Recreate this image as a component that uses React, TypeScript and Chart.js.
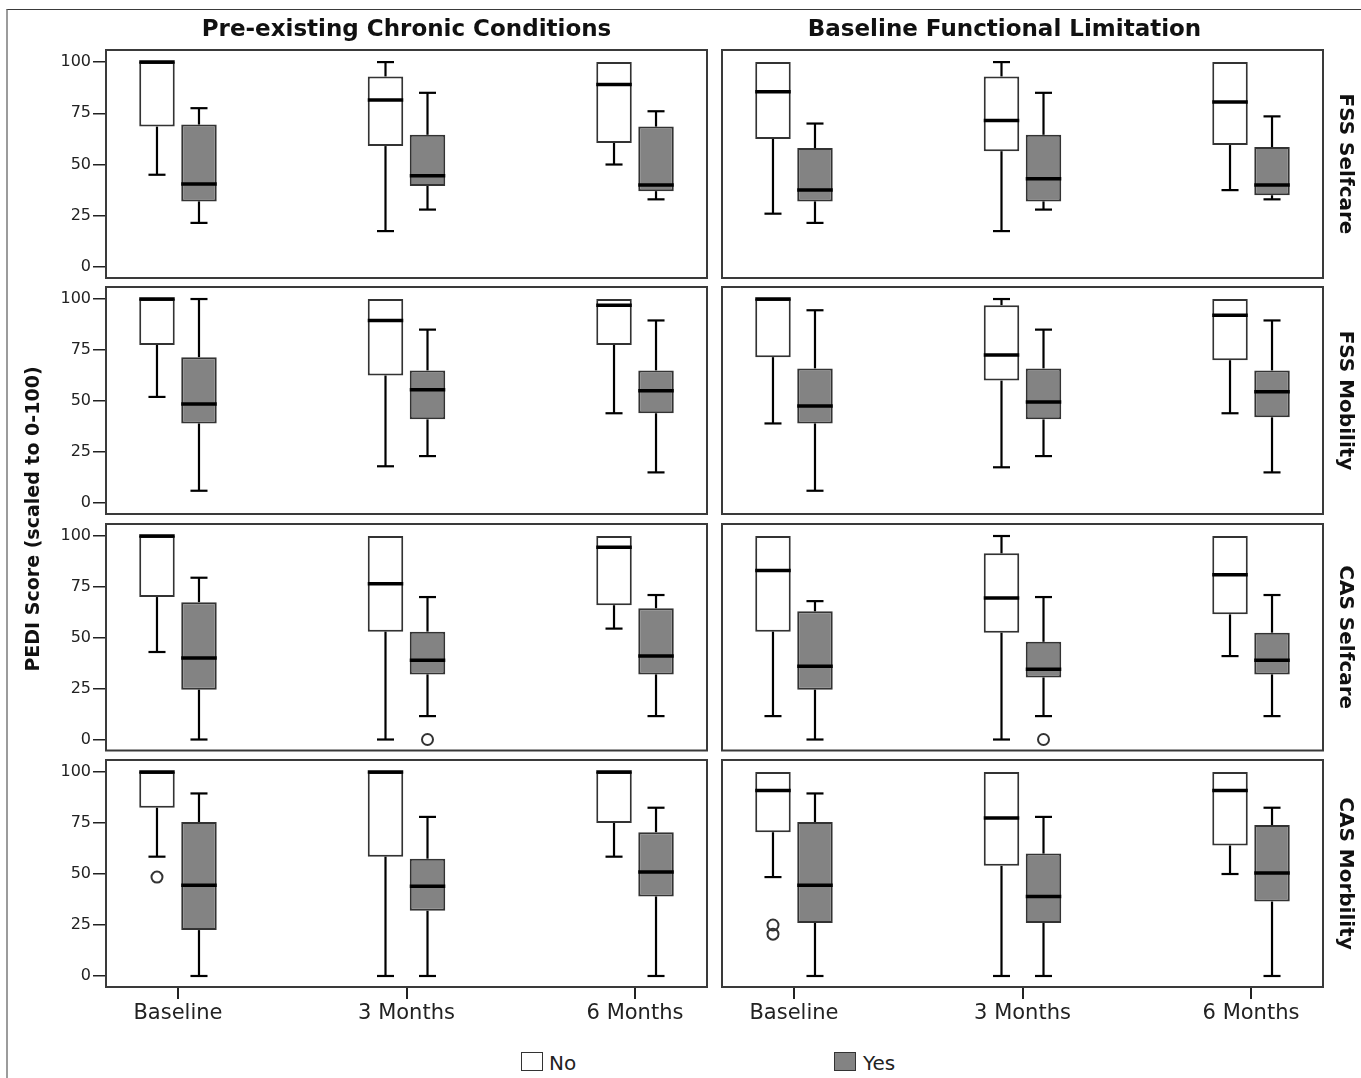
import React, { useEffect, useRef } from 'react';
import { Chart, registerables } from 'chart.js';

Chart.register(...registerables);

// ---------- data ----------
const CATEGORIES = ['Baseline', '3 Months', '6 Months'];
const GROUP_LABELS = ['No', 'Yes'];
const COLUMN_TITLES = ['Pre-existing Chronic Conditions', 'Baseline Functional Limitation'];
const ROW_LABELS = ['FSS Selfcare', 'FSS Mobility', 'CAS Selfcare', 'CAS Morbility'];
const Y_TICKS = [0, 25, 50, 75, 100];
const Y_TITLE = 'PEDI Score (scaled to 0-100)';

// [lower whisker, Q1, median, Q3, upper whisker] for Baseline, 3 Months, 6 Months
const chronicFssSelfcareNo = [[45, 68.5, 100, 100, 100], [17.5, 59, 81.5, 93, 100], [50, 60.5, 89, 100, 100]];
const chronicFssSelfcareYes = [[21.5, 32, 40.5, 69.5, 77.5], [28, 39.5, 44.5, 64.5, 85], [33, 37, 40, 68.5, 76]];
const chronicFssMobilityNo = [[52, 77.5, 100, 100, 100], [18, 62.5, 89.5, 100, 100], [44, 77.5, 97, 100, 100]];
const chronicFssMobilityYes = [[6, 39, 48.5, 71.5, 100], [23, 41, 55.5, 65, 85], [15, 44, 55, 65, 89.5]];
const chronicCasSelfcareNo = [[43, 70, 100, 100, 100], [0, 53, 76.5, 100, 100], [54.5, 66, 94.5, 100, 100]];
const chronicCasSelfcareYes = [[0, 24.5, 40, 67.5, 79.5], [11.5, 32, 39, 53, 70], [11.5, 32, 41, 64.5, 71]];
const chronicCasMobilityNo = [[58.5, 82.5, 100, 100, 100], [0, 58.5, 100, 100, 100], [58.5, 75, 100, 100, 100]];
const chronicCasMobilityYes = [[0, 22.5, 44.5, 75.5, 89.5], [0, 32, 44, 57.5, 78], [0, 39, 51, 70.5, 82.5]];

const limitFssSelfcareNo = [[26, 62.5, 85.5, 100, 100], [17.5, 56.5, 71.5, 93, 100], [37.5, 59.5, 80.5, 100, 100]];
const limitFssSelfcareYes = [[21.5, 32, 37.5, 58, 70], [28, 32, 43, 64.5, 85], [33, 35, 40, 58.5, 73.5]];
const limitFssMobilityNo = [[39, 71.5, 100, 100, 100], [17.5, 60, 72.5, 97, 100], [44, 70, 92, 100, 100]];
const limitFssMobilityYes = [[6, 39, 47.5, 66, 94.5], [23, 41, 49.5, 66, 85], [15, 42, 54.5, 65, 89.5]];
const limitCasSelfcareNo = [[11.5, 53, 83, 100, 100], [0, 52.5, 69.5, 91.5, 100], [41, 61.5, 81, 100, 100]];
const limitCasSelfcareYes = [[0, 24.5, 36, 63, 68], [11.5, 30.5, 34.5, 48, 70], [11.5, 32, 39, 52.5, 71]];
const limitCasMobilityNo = [[48.5, 70.5, 91, 100, 100], [0, 54, 77.5, 100, 100], [50, 64, 91, 100, 100]];
const limitCasMobilityYes = [[0, 26, 44.5, 75.5, 89.5], [0, 26, 39, 60, 78], [0, 36.5, 50.5, 74, 82.5]];

// outliers: [group index (0 = No, 1 = Yes), time point index, value]
const chronicCasSelfcareOutliers = [[1, 1, 0]];
const chronicCasMobilityOutliers = [[0, 0, 48.5]];
const limitCasSelfcareOutliers = [[1, 1, 0]];
const limitCasMobilityOutliers = [[0, 0, 25], [0, 0, 20.5]];

const PANEL_DATA: any[][] = [
  [[chronicFssSelfcareNo, chronicFssSelfcareYes, []], [limitFssSelfcareNo, limitFssSelfcareYes, []]],
  [[chronicFssMobilityNo, chronicFssMobilityYes, []], [limitFssMobilityNo, limitFssMobilityYes, []]],
  [[chronicCasSelfcareNo, chronicCasSelfcareYes, chronicCasSelfcareOutliers], [limitCasSelfcareNo, limitCasSelfcareYes, limitCasSelfcareOutliers]],
  [[chronicCasMobilityNo, chronicCasMobilityYes, chronicCasMobilityOutliers], [limitCasMobilityNo, limitCasMobilityYes, limitCasMobilityOutliers]],
];

// ---------- layout / style ----------
const FONT = 'DejaVu Sans';
const BOX_FILL = ['#ffffff', '#838383'];
const BOX_EDGE = '#333333';
const PANEL_X = [[106, 707], [722, 1323]];
const PANEL_Y = [[50, 278], [287, 514], [524, 750.5], [760, 987]];
const CANVAS_X = [[30, 783], [648, 1361]];
const X_MIN = -0.315;
const X_MAX = 2.315;
const Y_MIN = -5.4;
const Y_MAX = 105.9;
const X_AXIS_H = 58;

Chart.defaults.font.family = FONT;

function panelGeometry(row: number, col: number) {
  const [px0, px1] = PANEL_X[col];
  const [py0, py1] = PANEL_Y[row];
  const [cx0, cx1] = CANVAS_X[col];
  const isTop = row === 0;
  const isBottom = row === ROW_LABELS.length - 1;
  const topExtra = isTop ? 40 : 14;
  const bottomExtra = isBottom ? X_AXIS_H : 14;
  const top = py0 - topExtra;
  const height = Math.ceil(py1 + bottomExtra - top);
  const padTop = isTop ? 0 : 14;
  const padBottom = height - (py1 - top) - (isBottom ? X_AXIS_H : 0);
  return {
    left: cx0,
    top,
    width: cx1 - cx0,
    height,
    padTop,
    padBottom,
    leftAxisW: px0 - cx0,
    rightAxisW: cx1 - px1,
  };
}

function boxPlotPlugin(groups: number[][][], outliers: number[][]) {
  return {
    id: 'boxPlot',
    afterDatasetsDraw(chart: any) {
      const ctx = chart.ctx;
      const yScale = chart.scales.y;
      const py = (v: number) => yScale.getPixelForValue(v);
      const seg = (x1: number, y1: number, x2: number, y2: number) => {
        ctx.beginPath();
        ctx.moveTo(x1, y1);
        ctx.lineTo(x2, y2);
        ctx.stroke();
      };
      ctx.save();
      ctx.lineCap = 'butt';
      groups.forEach((stats, gi) => {
        const meta = chart.getDatasetMeta(gi);
        stats.forEach((s, i) => {
          const bar = meta.data[i];
          if (!bar) return;
          const x = bar.x;
          const w = bar.width;
          const [lo, q1, med, q3, hi] = s;
          const cap = w * 0.24;
          ctx.strokeStyle = '#000';
          ctx.lineWidth = 2.2;
          if (hi > q3) {
            seg(x, py(q3), x, py(hi));
            seg(x - cap, py(hi), x + cap, py(hi));
          }
          if (lo < q1) {
            seg(x, py(q1), x, py(lo));
            seg(x - cap, py(lo), x + cap, py(lo));
          }
          ctx.lineWidth = 3.5;
          seg(x - w / 2, py(med), x + w / 2, py(med));
        });
      });
      outliers.forEach(([gi, i, v]) => {
        const bar = chart.getDatasetMeta(gi).data[i];
        if (!bar) return;
        ctx.beginPath();
        ctx.arc(bar.x, py(v), 5.5, 0, Math.PI * 2);
        ctx.lineWidth = 2;
        ctx.strokeStyle = '#333';
        ctx.stroke();
      });
      ctx.restore();
    },
    afterDraw(chart: any) {
      const { ctx, chartArea: a } = chart;
      ctx.save();
      ctx.strokeStyle = '#3a3a3a';
      ctx.lineWidth = 2;
      ctx.strokeRect(a.left, a.top, a.right - a.left, a.bottom - a.top);
      ctx.restore();
    },
  };
}

function buildConfig(row: number, col: number, g: any): any {
  const [no, yes, outliers] = PANEL_DATA[row][col];
  const groups = [no, yes];
  const isBottom = row === ROW_LABELS.length - 1;
  return {
    type: 'bar',
    data: {
      datasets: groups.map((stats: number[][], gi: number) => ({
        label: GROUP_LABELS[gi],
        data: stats.map((s, i) => ({ x: i, y: [s[1], s[3]] })),
        xAxisID: 'x',
        yAxisID: 'y',
        backgroundColor: BOX_FILL[gi],
        borderColor: BOX_EDGE,
        borderWidth: 2,
        borderSkipped: false,
        inflateAmount: 0,
        categoryPercentage: 0.3676,
        barPercentage: 0.845,
      })),
    },
    options: {
      animation: false,
      responsive: false,
      devicePixelRatio: 1,
      events: [],
      layout: { padding: { left: 0, right: 0, top: g.padTop, bottom: g.padBottom } },
      plugins: {
        legend: { display: false },
        tooltip: { enabled: false },
        title: {
          display: row === 0,
          text: COLUMN_TITLES[col],
          color: '#111',
          font: { family: FONT, size: 23, weight: 'bold' },
          padding: { top: 6.2, bottom: 6.2 },
        },
      },
      scales: {
        x: {
          type: 'linear',
          min: X_MIN,
          max: X_MAX,
          offset: false,
          display: isBottom,
          afterBuildTicks: (axis: any) => {
            axis.ticks = CATEGORIES.map((_, i) => ({ value: i }));
          },
          afterFit: (axis: any) => {
            axis.height = isBottom ? X_AXIS_H : 0;
          },
          ticks: {
            callback: (v: any) => CATEGORIES[v] ?? '',
            font: { family: FONT, size: 21 },
            color: '#222',
            padding: 2.4,
            maxRotation: 0,
            autoSkip: false,
          },
          grid: {
            offset: false,
            drawOnChartArea: false,
            drawTicks: true,
            tickLength: 12,
            color: '#222',
            lineWidth: 2,
          },
          border: { display: false },
        },
        y: {
          type: 'linear',
          position: 'left',
          min: Y_MIN,
          max: Y_MAX,
          afterBuildTicks: (axis: any) => {
            axis.ticks = Y_TICKS.map((v) => ({ value: v }));
          },
          afterFit: (axis: any) => {
            axis.width = g.leftAxisW;
          },
          ticks: {
            display: col === 0,
            font: { family: FONT, size: 16 },
            color: '#222',
            padding: 2,
          },
          grid: {
            display: col === 0,
            drawOnChartArea: false,
            drawTicks: true,
            tickLength: 13,
            color: '#222',
            lineWidth: 1.5,
          },
          border: { display: false },
        },
        side: {
          type: 'linear',
          position: 'right',
          afterFit: (axis: any) => {
            axis.width = g.rightAxisW;
          },
          ticks: { display: false },
          grid: { display: false },
          border: { display: false },
          title: {
            display: col === 1,
            text: ROW_LABELS[row],
            color: '#111',
            font: { family: FONT, size: 20, weight: 'bold' },
            padding: { top: 4, bottom: 0 },
          },
        },
      },
    },
    plugins: [boxPlotPlugin(groups, outliers)],
  };
}

function Panel({ row, col }: { row: number; col: number }) {
  const ref = useRef<HTMLCanvasElement | null>(null);
  const g = panelGeometry(row, col);
  useEffect(() => {
    const canvas = ref.current;
    if (!canvas) return;
    const chart = new Chart(canvas, buildConfig(row, col, g));
    return () => chart.destroy();
  }, [row, col]);
  return (
    <canvas
      ref={ref}
      width={g.width}
      height={g.height}
      style={{ position: 'absolute', left: g.left, top: g.top, width: g.width, height: g.height }}
    />
  );
}

export default function App() {
  const panels: any[] = [];
  for (let r = 0; r < ROW_LABELS.length; r++) {
    for (let c = 0; c < COLUMN_TITLES.length; c++) {
      panels.push(<Panel key={`${r}-${c}`} row={r} col={c} />);
    }
  }
  const legendText: any = {
    position: 'absolute',
    top: 1051,
    fontFamily: FONT,
    fontSize: 20,
    lineHeight: '24px',
    color: '#222',
    whiteSpace: 'nowrap',
  };
  return (
    <div
      style={{
        position: 'absolute',
        left: 0,
        top: 0,
        width: 1361,
        height: 1078,
        overflow: 'hidden',
        background: '#ffffff',
      }}
    >
      <div
        style={{
          position: 'absolute',
          left: 6,
          top: 9,
          width: 1355,
          height: 1069,
          boxSizing: 'border-box',
          borderLeft: '2px solid #9c9c9c',
          borderTop: '1px solid #3a3a3a',
        }}
      />
      {panels}
      <div
        style={{
          position: 'absolute',
          left: 32 - 200,
          top: 518.5 - 12,
          width: 400,
          height: 24,
          lineHeight: '24px',
          textAlign: 'center',
          transform: 'rotate(-90deg)',
          transformOrigin: '50% 50%',
          fontFamily: FONT,
          fontWeight: 'bold',
          fontSize: 19,
          color: '#111',
          whiteSpace: 'nowrap',
        }}
      >
        {Y_TITLE}
      </div>
      <div
        style={{
          position: 'absolute',
          left: 521,
          top: 1052,
          width: 22,
          height: 19,
          boxSizing: 'border-box',
          border: '1.5px solid #333',
          background: BOX_FILL[0],
        }}
      />
      <div style={{ ...legendText, left: 549 }}>{GROUP_LABELS[0]}</div>
      <div
        style={{
          position: 'absolute',
          left: 834,
          top: 1052,
          width: 22,
          height: 19,
          boxSizing: 'border-box',
          border: '1.5px solid #333',
          background: BOX_FILL[1],
        }}
      />
      <div style={{ ...legendText, left: 863 }}>{GROUP_LABELS[1]}</div>
    </div>
  );
}
